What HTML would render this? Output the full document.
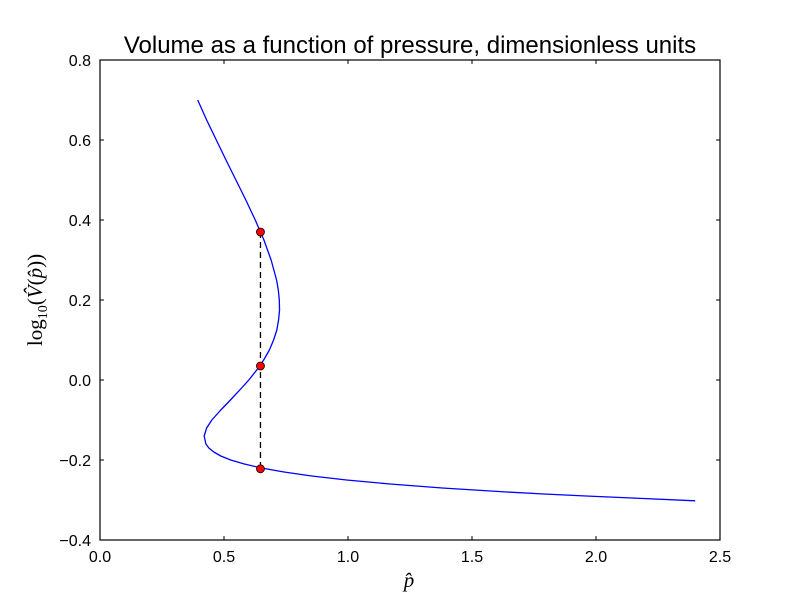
<!DOCTYPE html>
<html><head><meta charset="utf-8"><style>
body{margin:0;background:#fff;}
svg{display:block;font-family:"Liberation Sans","DejaVu Sans",sans-serif;}
</style></head><body>
<svg id="chart" width="800" height="600" viewBox="0 0 800 600" xmlns="http://www.w3.org/2000/svg">
<rect width="800" height="600" fill="#fff"/>
<text x="410" y="53" font-size="24" text-anchor="middle">Volume as a function of pressure, dimensionless units</text>
<g id="marks"></g>
<g id="axes"></g>
<text x="409" y="587" font-size="21" font-style="italic" font-family="Liberation Serif,serif" text-anchor="middle">p̂</text>
<text transform="translate(42,300) rotate(-90)" font-size="21" font-family="Liberation Serif,serif" text-anchor="middle">log<tspan font-size="14" dy="5">10</tspan><tspan dy="-5">(</tspan><tspan font-style="italic">V̂</tspan>(<tspan font-style="italic">p̂</tspan>))</text>
</svg>
<script>
const curveLogV = [0.7,0.65,0.6,0.55,0.5,0.45,0.4,0.35,0.3,0.25,0.225,0.2,0.175,0.15,0.125,0.1,0.075,0.05,0.025,0.0,-0.02,-0.05,-0.075,-0.1,-0.12,-0.14,-0.16,-0.17,-0.18,-0.19,-0.2,-0.21,-0.22,-0.23,-0.24,-0.25,-0.26,-0.27,-0.28,-0.285,-0.29,-0.295,-0.302];
const curveP = [0.394,0.430,0.469,0.508,0.548,0.588,0.626,0.661,0.690,0.712,0.719,0.723,0.724,0.720,0.713,0.700,0.683,0.660,0.632,0.600,0.571,0.526,0.487,0.451,0.430,0.420,0.427,0.439,0.459,0.487,0.527,0.582,0.651,0.742,0.854,0.994,1.17,1.38,1.64,1.79,1.96,2.145,2.40];
const coexP = 0.647;
const coexLogV = [0.37,0.035,-0.222];
const xTicks = [0,0.5,1.0,1.5,2.0,2.5];
const yTicks = [-0.4,-0.2,0.0,0.2,0.4,0.6,0.8];

const L=100,R=720,T=60,B=540;
const sx=v=>L+(v-0)/(2.5-0)*(R-L);
const sy=v=>B-(v+0.4)/(1.2)*(B-T);
const NS='http://www.w3.org/2000/svg';
const marks=document.getElementById('marks'),axes=document.getElementById('axes');
function mk(tag,attrs,parent){const e=document.createElementNS(NS,tag);for(const k in attrs)e.setAttribute(k,attrs[k]);parent.appendChild(e);return e;}

const curve=mk('polyline',{points:curveP.map((p,i)=>sx(p)+','+sy(curveLogV[i])).join(' '),fill:'none',stroke:'#0000ff','stroke-width':1.3,'stroke-linejoin':'round'},marks);


const dash=mk('line',{x1:sx(coexP),x2:sx(coexP),y1:sy(Math.max(...coexLogV)),y2:sy(Math.min(...coexLogV)),stroke:'#000','stroke-width':1.3,'stroke-dasharray':'6,4'},marks);


coexLogV.forEach((v,i)=>{
  const c=mk('circle',{cx:sx(coexP),cy:sy(v),r:4,fill:'#ff0000',stroke:'#000','stroke-width':0.8},marks);
  
  
});

const frame=mk('rect',{x:L,y:T,width:R-L,height:B-T,fill:'none',stroke:'#000','stroke-width':1.2},axes);


xTicks.forEach(t=>{
  const x=sx(t);
  mk('line',{x1:x,x2:x,y1:B,y2:B-4,stroke:'#000'},axes);
  mk('line',{x1:x,x2:x,y1:T,y2:T+4,stroke:'#000'},axes);
  const tx=mk('text',{x:x,y:B+22,'font-size':16,'text-anchor':'middle'},axes);
  tx.textContent=t.toFixed(1);
  
  
});
yTicks.forEach(t=>{
  const y=sy(t);
  mk('line',{x1:L,x2:L+4,y1:y,y2:y,stroke:'#000'},axes);
  mk('line',{x1:R,x2:R-4,y1:y,y2:y,stroke:'#000'},axes);
  const tx=mk('text',{x:L-9,y:y+6,'font-size':16,'text-anchor':'end'},axes);
  tx.textContent=(t<0?'\u2212':'')+Math.abs(t).toFixed(1);
  
  
});
</script>
</body></html>
